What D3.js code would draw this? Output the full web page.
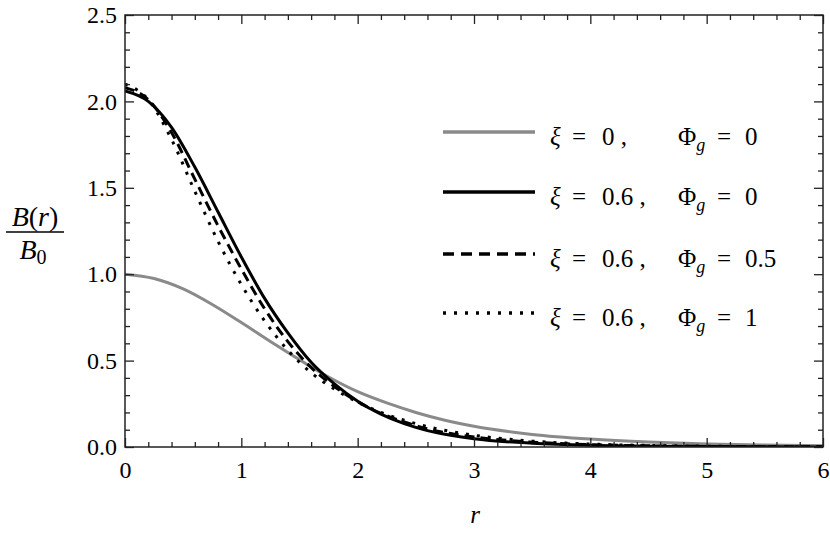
<!DOCTYPE html>
<html>
<head>
<meta charset="utf-8">
<script src="https://cdn.jsdelivr.net/npm/d3@7"></script>
<style>
  body { margin: 0; background: #fff; }
  svg text { font-family: "Liberation Serif", "Times New Roman", Times, serif; fill: #000; }
</style>
</head>
<body>
<script>
// radius samples
var rGray = [0, 0.25, 0.5, 0.75, 1.0, 1.25, 1.5, 1.75, 2.0, 2.25, 2.5, 2.75, 3.0, 3.5, 4.0, 4.5, 5.0, 5.5, 6.0];
var bGray = [1.0, 0.975, 0.915, 0.825, 0.72, 0.61, 0.505, 0.405, 0.32, 0.255, 0.20, 0.155, 0.12, 0.073, 0.046, 0.029, 0.018, 0.011, 0.007];

var rXi = [0, 0.2, 0.4, 0.6, 0.8, 1.0, 1.2, 1.4, 1.6, 1.8, 2.0, 2.2, 2.4, 2.6, 2.8, 3.0, 3.5, 4.0, 4.5, 5.0, 6.0];
var bPhi0   = [2.06, 2.0, 1.85, 1.62, 1.36, 1.10, 0.86, 0.66, 0.49, 0.365, 0.265, 0.19, 0.135, 0.095, 0.068, 0.048, 0.022, 0.01, 0.005, 0.0025, 0.0005];
var bPhi05  = [2.08, 2.01, 1.82, 1.55, 1.28, 1.03, 0.80, 0.61, 0.46, 0.35, 0.262, 0.195, 0.145, 0.105, 0.078, 0.058, 0.028, 0.014, 0.007, 0.0035, 0.001];
var bPhi1   = [2.10, 2.01, 1.78, 1.48, 1.19, 0.94, 0.73, 0.56, 0.43, 0.335, 0.26, 0.2, 0.155, 0.118, 0.09, 0.068, 0.034, 0.017, 0.009, 0.0045, 0.001];

var xTicks = [0, 1, 2, 3, 4, 5, 6];
var yTicks = [0, 0.5, 1.0, 1.5, 2.0, 2.5];

var legendXi  = ["0", "0.6", "0.6", "0.6"];
var legendPhi = ["0", "0", "0.5", "1"];

var w = 830, h = 538;
var pLeft = 125, pRight = 823, pTop = 15, pBottom = 447;

var x = d3.scaleLinear().domain([0, 6]).range([pLeft, pRight]);
var y = d3.scaleLinear().domain([0, 2.5]).range([pBottom, pTop]);

var svg = d3.select('body').append('svg')
  .attr('width', w)
  .attr('height', h);

svg.append('defs').append('clipPath').attr('id', 'plot')
  .append('rect')
  .attr('x', pLeft).attr('y', pTop)
  .attr('width', pRight - pLeft).attr('height', pBottom - pTop);

// curves
var series = [
  { r: rGray, b: bGray,  color: '#8a8a8a', dash: null },
  { r: rXi,   b: bPhi0,  color: '#000',    dash: null },
  { r: rXi,   b: bPhi05, color: '#000',    dash: '10,6' },
  { r: rXi,   b: bPhi1,  color: '#000',    dash: '3,8' }
];

var line = d3.line()
  .x(d => x(d[0]))
  .y(d => y(d[1]))
  .curve(d3.curveMonotoneX);

var g = svg.append('g').attr('clip-path', 'url(#plot)');
series.forEach(s => {
  g.append('path')
    .datum(s.r.map((r, i) => [r, s.b[i]]))
    .attr('d', line)
    .attr('fill', 'none')
    .attr('stroke', s.color)
    .attr('stroke-width', 3)
    .attr('stroke-dasharray', s.dash);
});

// frame ticks (inward, on all four sides)
var xMinor = d3.range(0, 6.001, 0.2).filter(v => Math.abs(v - Math.round(v)) > 1e-6);
var yMinor = d3.range(0, 2.501, 0.1).filter(v => Math.abs(v * 2 - Math.round(v * 2)) > 1e-6);

function styleAxis(sel) {
  sel.attr('font-family', null);
  sel.select('.domain').remove();
  sel.selectAll('line').attr('stroke', '#222').attr('stroke-width', 1.3);
  sel.selectAll('text').style('font-size', '24px').attr('fill', '#000');
}

svg.append('g').attr('transform', 'translate(0,' + pBottom + ')')
  .call(d3.axisBottom(x).tickValues(xTicks).tickSizeInner(-9).tickSizeOuter(0).tickPadding(14)
    .tickFormat(d3.format('d')))
  .call(styleAxis);
svg.append('g').attr('transform', 'translate(0,' + pBottom + ')')
  .call(d3.axisBottom(x).tickValues(xMinor).tickSizeInner(-5).tickSizeOuter(0).tickFormat(''))
  .call(styleAxis);

svg.append('g').attr('transform', 'translate(0,' + pTop + ')')
  .call(d3.axisTop(x).tickValues(xTicks).tickSizeInner(-9).tickSizeOuter(0).tickFormat(''))
  .call(styleAxis);
svg.append('g').attr('transform', 'translate(0,' + pTop + ')')
  .call(d3.axisTop(x).tickValues(xMinor).tickSizeInner(-5).tickSizeOuter(0).tickFormat(''))
  .call(styleAxis);

svg.append('g').attr('transform', 'translate(' + pLeft + ',0)')
  .call(d3.axisLeft(y).tickValues(yTicks).tickSizeInner(-9).tickSizeOuter(0).tickPadding(8)
    .tickFormat(d3.format('.1f')))
  .call(styleAxis);
svg.append('g').attr('transform', 'translate(' + pLeft + ',0)')
  .call(d3.axisLeft(y).tickValues(yMinor).tickSizeInner(-5).tickSizeOuter(0).tickFormat(''))
  .call(styleAxis);

svg.append('g').attr('transform', 'translate(' + pRight + ',0)')
  .call(d3.axisRight(y).tickValues(yTicks).tickSizeInner(-9).tickSizeOuter(0).tickFormat(''))
  .call(styleAxis);
svg.append('g').attr('transform', 'translate(' + pRight + ',0)')
  .call(d3.axisRight(y).tickValues(yMinor).tickSizeInner(-5).tickSizeOuter(0).tickFormat(''))
  .call(styleAxis);

svg.append('rect')
  .attr('x', pLeft).attr('y', pTop)
  .attr('width', pRight - pLeft).attr('height', pBottom - pTop)
  .attr('fill', 'none')
  .attr('stroke', '#222')
  .attr('stroke-width', 1.5);

// axis labels
svg.append('text')
  .attr('x', 475).attr('y', 523)
  .attr('text-anchor', 'middle')
  .style('font-size', '25px')
  .style('font-style', 'italic')
  .text('r');

var yl = svg.append('g');
var t1 = yl.append('text').attr('x', 35).attr('y', 226).attr('text-anchor', 'middle').style('font-size', '28px');
t1.append('tspan').style('font-style', 'italic').text('B');
t1.append('tspan').text('(');
t1.append('tspan').style('font-style', 'italic').text('r');
t1.append('tspan').text(')');
yl.append('line')
  .attr('x1', 6).attr('x2', 64).attr('y1', 232).attr('y2', 232)
  .attr('stroke', '#000').attr('stroke-width', 1.3);
var t2 = yl.append('text').attr('x', 33).attr('y', 259).attr('text-anchor', 'middle').style('font-size', '28px');
t2.append('tspan').style('font-style', 'italic').text('B');
t2.append('tspan').attr('dy', 5).style('font-size', '20px').text('0');

// legend
var legY = [132, 192, 254, 313];
legY.forEach((ly0, i) => {
  var s = series[i];
  svg.append('line')
    .attr('x1', 443).attr('x2', 535)
    .attr('y1', ly0).attr('y2', ly0)
    .attr('stroke', s.color)
    .attr('stroke-width', 3.3)
    .attr('stroke-dasharray', s.dash == '10,6' ? '11,7' : s.dash);

  var base = ly0 + 13;
  svg.append('text').attr('x', 550).attr('y', base).style('font-size', '25px')
    .style('font-style', 'italic').text('ξ');
  svg.append('text').attr('x', 572).attr('y', base).style('font-size', '25px').text('=');
  svg.append('text').attr('x', 602).attr('y', base).style('font-size', '25px')
    .text(legendXi[i] + ' ,');

  var tp = svg.append('text').attr('x', 678).attr('y', base).style('font-size', '25px');
  tp.append('tspan').text('Φ');
  tp.append('tspan').attr('dy', 6).style('font-size', '18px').style('font-style', 'italic').text('g');
  svg.append('text').attr('x', 717).attr('y', base).style('font-size', '25px').text('=');
  svg.append('text').attr('x', 745).attr('y', base).style('font-size', '25px').text(legendPhi[i]);
});
</script>
</body>
</html>
